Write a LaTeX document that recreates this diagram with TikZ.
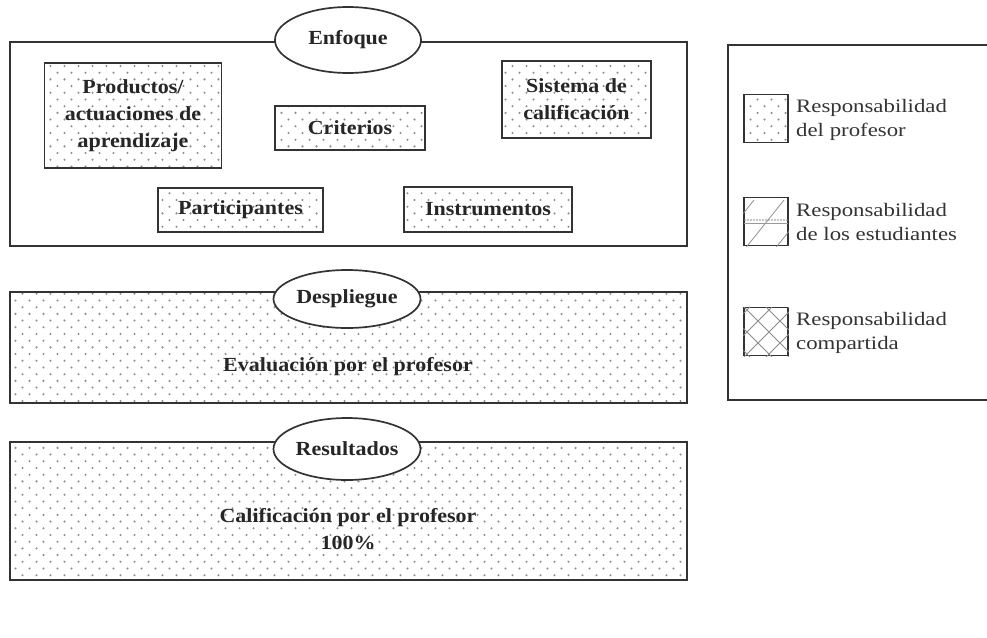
\documentclass[tikz,border=0pt]{standalone}
\usepackage{fontspec}
\setmainfont[FakeStretch=1.1]{Liberation Serif}
\newfontfamily\legfont[FakeStretch=1.2]{Liberation Serif}
\usetikzlibrary{shapes.geometric,patterns}

\pgfdeclarepatternformonly{pdots}{\pgfpoint{-1pt}{-1pt}}{\pgfpoint{15pt}{15pt}}{\pgfpoint{14pt}{13.4pt}}{%
  \pgfpathcircle{\pgfpoint{1.5pt}{1.5pt}}{1.15pt}%
  \pgfpathcircle{\pgfpoint{8.5pt}{8.2pt}}{1.15pt}%
  \pgfusepath{fill}}

\tikzset{
  frame/.style={draw=black!80, line width=1.7pt},
  dotbox/.style={frame, pattern=pdots, pattern color=black!45, inner sep=0pt},
  lbl/.style={font=\bfseries\fontsize{20}{27}\selectfont, align=center, text=black!85},
  oval/.style={ellipse, frame, fill=white, inner sep=0pt, font=\bfseries\fontsize{20}{27}\selectfont, text=black!85},
  legtext/.style={font=\legfont\fontsize{19}{24}\selectfont, align=left, anchor=west, inner sep=0pt, text=black!80},
  swatch/.style={draw=black!80, line width=1.5pt, minimum width=44pt, minimum height=48pt, inner sep=0pt},
  hatch/.style={draw=black!45, line width=0.8pt}
}

\begin{document}
\begin{tikzpicture}[x=1pt,y=-1pt]
\useasboundingbox (0,0) rectangle (987,637);

% ---- Enfoque frame ----
\node[frame, minimum width=677pt, minimum height=204pt, inner sep=0pt] (enfbox) at (348.5,144) {};
\node[oval, minimum width=146pt, minimum height=66pt] (enf) at (348,40) {Enfoque};

\node[dotbox, minimum width=177pt, minimum height=105pt, lbl] (prod) at (133,115.5) {Productos/\\actuaciones de\\aprendizaje};
\node[dotbox, minimum width=150pt, minimum height=44pt, lbl] (crit) at (350,128) {Criterios};
\node[dotbox, minimum width=149pt, minimum height=77pt, lbl] (sist) at (576.5,99.5) {Sistema de\\calificación};
\node[dotbox, minimum width=165pt, minimum height=44pt, lbl] (part) at (240.5,210) {Participantes};
\node[dotbox, minimum width=168pt, minimum height=45pt, lbl] (inst) at (488,209.5) {Instrumentos};

% ---- Despliegue ----
\node[dotbox, minimum width=677pt, minimum height=111pt] (despbox) at (348.5,347.5) {};
\node[oval, minimum width=147pt, minimum height=58pt] (desp) at (347,299) {Despliegue};
\node[lbl] (eval) at (348,367) {Evaluación por el profesor};

% ---- Resultados ----
\node[dotbox, minimum width=677pt, minimum height=138pt] (resbox) at (348.5,511) {};
\node[oval, minimum width=147pt, minimum height=62pt] (res) at (347,449) {Resultados};
\node[lbl] (calif) at (348,529) {Calificación por el profesor\\100\%};

% ---- Legend ----
\draw[frame] (990,45) -| (728,400) -- (990,400);

\node[swatch, pattern=pdots, pattern color=black!45] (sw1) at (766,118.5) {};
\node[legtext] (lt1) at (796,120) {Responsabilidad\\del profesor};

\node[swatch] (sw2) at (766,221.5) {};
\begin{scope}
  \clip (sw2.south west) rectangle (sw2.north east);
  \foreach \d in {-30,0,30}{
    \draw[hatch] (744+\d,250) -- ++(40,-50);
  }
  \draw[draw=black!40, line width=0.9pt] (744,223) -- (788,223);
  \foreach \i in {0,...,14}{
    \fill[black!45] (745+3*\i,220) circle (0.9pt);
  }
\end{scope}
\node[legtext] (lt2) at (796,222) {Responsabilidad\\de los estudiantes};

\node[swatch] (sw3) at (766,331.5) {};
\begin{scope}
  \clip (sw3.south west) rectangle (sw3.north east);
  \foreach \d in {-44,-22,0,22,44}{
    \draw[hatch] (744+\d,307) -- ++(50,50);
    \draw[hatch] (744+\d,357) -- ++(50,-50);
  }
\end{scope}
\node[legtext] (lt3) at (796,333) {Responsabilidad\\compartida};
\end{tikzpicture}
\end{document}
